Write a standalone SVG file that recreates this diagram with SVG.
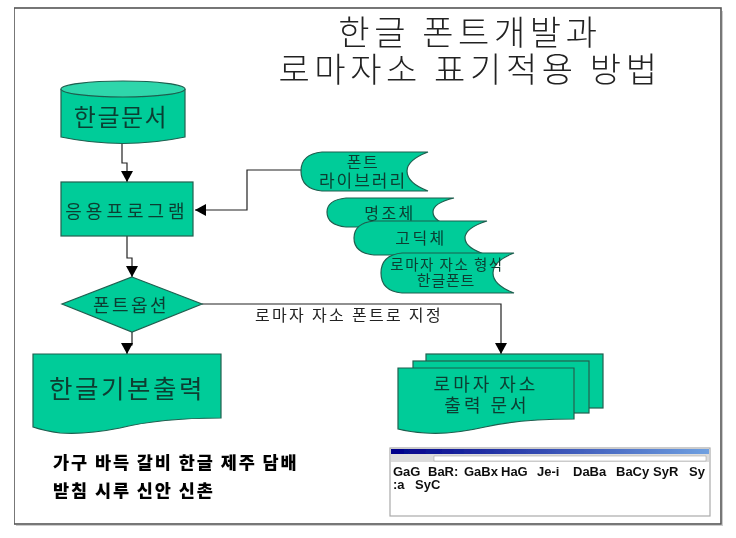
<svg xmlns="http://www.w3.org/2000/svg" width="736" height="538" viewBox="0 0 736 538">
<defs>
<style>
text{font-family:"Noto Sans CJK KR","Noto Sans",sans-serif;text-anchor:middle;fill:#0a3d30}
.s{fill:#00cc99;stroke:#1f5f4f;stroke-width:1.2}
.t{fill:#222;font-size:34px;letter-spacing:4.6px;font-weight:300}
.n{font-size:16px;letter-spacing:1px}
.b{fill:#000;font-weight:900;font-size:17.5px;letter-spacing:1.9px;text-anchor:start}
.c{fill:none;stroke:#222;stroke-width:1.2}
.g{fill:#111;font-family:"Liberation Sans",sans-serif;font-weight:700;font-size:13px;text-anchor:start}
</style>
<marker id="a" markerUnits="userSpaceOnUse" markerWidth="12" markerHeight="12" refX="11" refY="6" orient="auto"><path d="M0 0L11 6L0 12Z" fill="#000"/></marker>
<filter id="f" x="0" y="0" width="1" height="1"><feGaussianBlur stdDeviation="0.45"/></filter>
<linearGradient id="tb"><stop offset="0" stop-color="#00008a"/><stop offset="1" stop-color="#6fa0e0"/></linearGradient>
</defs>
<rect width="736" height="538" fill="#fff"/>
<g filter="url(#f)">
<rect id="frame" x="14" y="8" width="707" height="516" fill="#fff" stroke="#555" stroke-width="1.6"/>
<path d="M16 526H723V11" fill="none" stroke="#ccc" stroke-width="2"/>
<text class="t" x="470" y="45">한글 폰트개발과</text>
<text class="t" x="470" y="82">로마자소 표기적용 방법</text>
<g id="connectors">
<path class="c" d="M122 143V163H127V182" marker-end="url(#a)"/>
<path class="c" d="M127 236V258H132V277" marker-end="url(#a)"/>
<path class="c" d="M132 332V345H127V354" marker-end="url(#a)"/>
<path class="c" d="M301 170H247V210H195" marker-end="url(#a)"/>
<path class="c" d="M202 304H501V354" marker-end="url(#a)"/>
<text x="349" y="321" style="font-size:16px;letter-spacing:2.3px;fill:#222">로마자 자소 폰트로 지정</text>
</g>
<g id="doc">
<path class="s" d="M61 89V137Q123 150 185 137V89"/>
<ellipse class="s" cx="123" cy="89" rx="62" ry="8" style="fill:#2fd6ab"/>
<text x="121" y="126" style="font-size:24px;letter-spacing:1.5px">한글문서</text>
</g>
<g id="app"><rect class="s" x="61" y="182" width="132" height="54"/><text x="127" y="218" style="font-size:18px;letter-spacing:4px">응용프로그램</text></g>
<g id="option"><path class="s" d="M132 277L202 304L132 332L62 304Z"/><text x="131" y="312" style="font-size:18px;letter-spacing:2.5px">폰트옵션</text></g>
<g id="basic"><path class="s" d="M33 354H221V418Q160 418 120 428Q85 435 60 433Q45 431 33 427Z"/><text x="127" y="398" style="font-size:25.5px;letter-spacing:2.5px">한글기본출력</text></g>
<g id="library"><path class="s" d="M428 152H322Q301 154 301 171Q301 189 322 191H428Q407 183 407 171Q407 160 428 152Z"/><text class="n" x="363" y="168" style="letter-spacing:1.5px">폰트</text><text x="363" y="187" style="font-size:17px;letter-spacing:2px">라이브러리</text></g>
<g id="myeongjo"><path class="s" d="M454 198H346Q327 200 327 212Q327 225 346 227H454Q433 222 433 212Q433 203 454 198Z"/><text class="n" x="390" y="219" style="letter-spacing:2.5px">명조체</text></g>
<g id="gothic"><path class="s" d="M487 221H374Q354 223 354 238Q354 253 374 255H487Q465 248 465 238Q465 228 487 221Z"/><text class="n" x="421" y="244" style="letter-spacing:2.5px">고딕체</text></g>
<g id="romaja"><path class="s" d="M514 253H402Q381 255 381 273Q381 291 402 293H514Q493 285 493 273Q493 261 514 253Z"/><text x="447" y="270" style="font-size:14.5px;letter-spacing:1.5px">로마자 자소 형식</text><text x="446" y="286" style="font-size:15px;letter-spacing:.8px">한글폰트</text></g>
<g id="output">
<rect class="s" x="426" y="354" width="177" height="54"/>
<rect class="s" x="413" y="361" width="176" height="52"/>
<path class="s" d="M398 368H574V419Q520 419 485 427Q450 435 425 433Q410 432 398 429Z"/>
<text x="486" y="391" style="font-size:18px;letter-spacing:3px">로마자 자소</text>
<text x="487" y="412" style="font-size:18px;letter-spacing:3px">출력 문서</text>
</g>
<text class="b" x="53" y="469">가구 바득 갈비 한글 제주 담배</text>
<text class="b" x="53" y="497">받침 시루 신안 신촌</text>
<g id="screenshot">
<rect x="390" y="448" width="320" height="68" fill="#fff" stroke="#aaa" stroke-width="1.2"/>
<rect x="391" y="449" width="318" height="5" fill="url(#tb)"/>
<rect x="391" y="454" width="318" height="8" fill="#dcdcdc"/>
<rect x="434" y="456" width="272" height="5" fill="#fff" stroke="#999" stroke-width=".5"/>
<text class="g" x="393" y="476">GaG</text><text class="g" x="428" y="476">BaR:</text><text class="g" x="464" y="476">GaBx</text><text class="g" x="501" y="476">HaG</text><text class="g" x="537" y="476">Je-i</text><text class="g" x="573" y="476">DaBa</text><text class="g" x="616" y="476">BaCy</text><text class="g" x="653" y="476">SyR</text><text class="g" x="689" y="476">Sy</text>
<text class="g" x="393" y="489">:a</text><text class="g" x="415" y="489">SyC</text>
</g>
</g>
</svg>
